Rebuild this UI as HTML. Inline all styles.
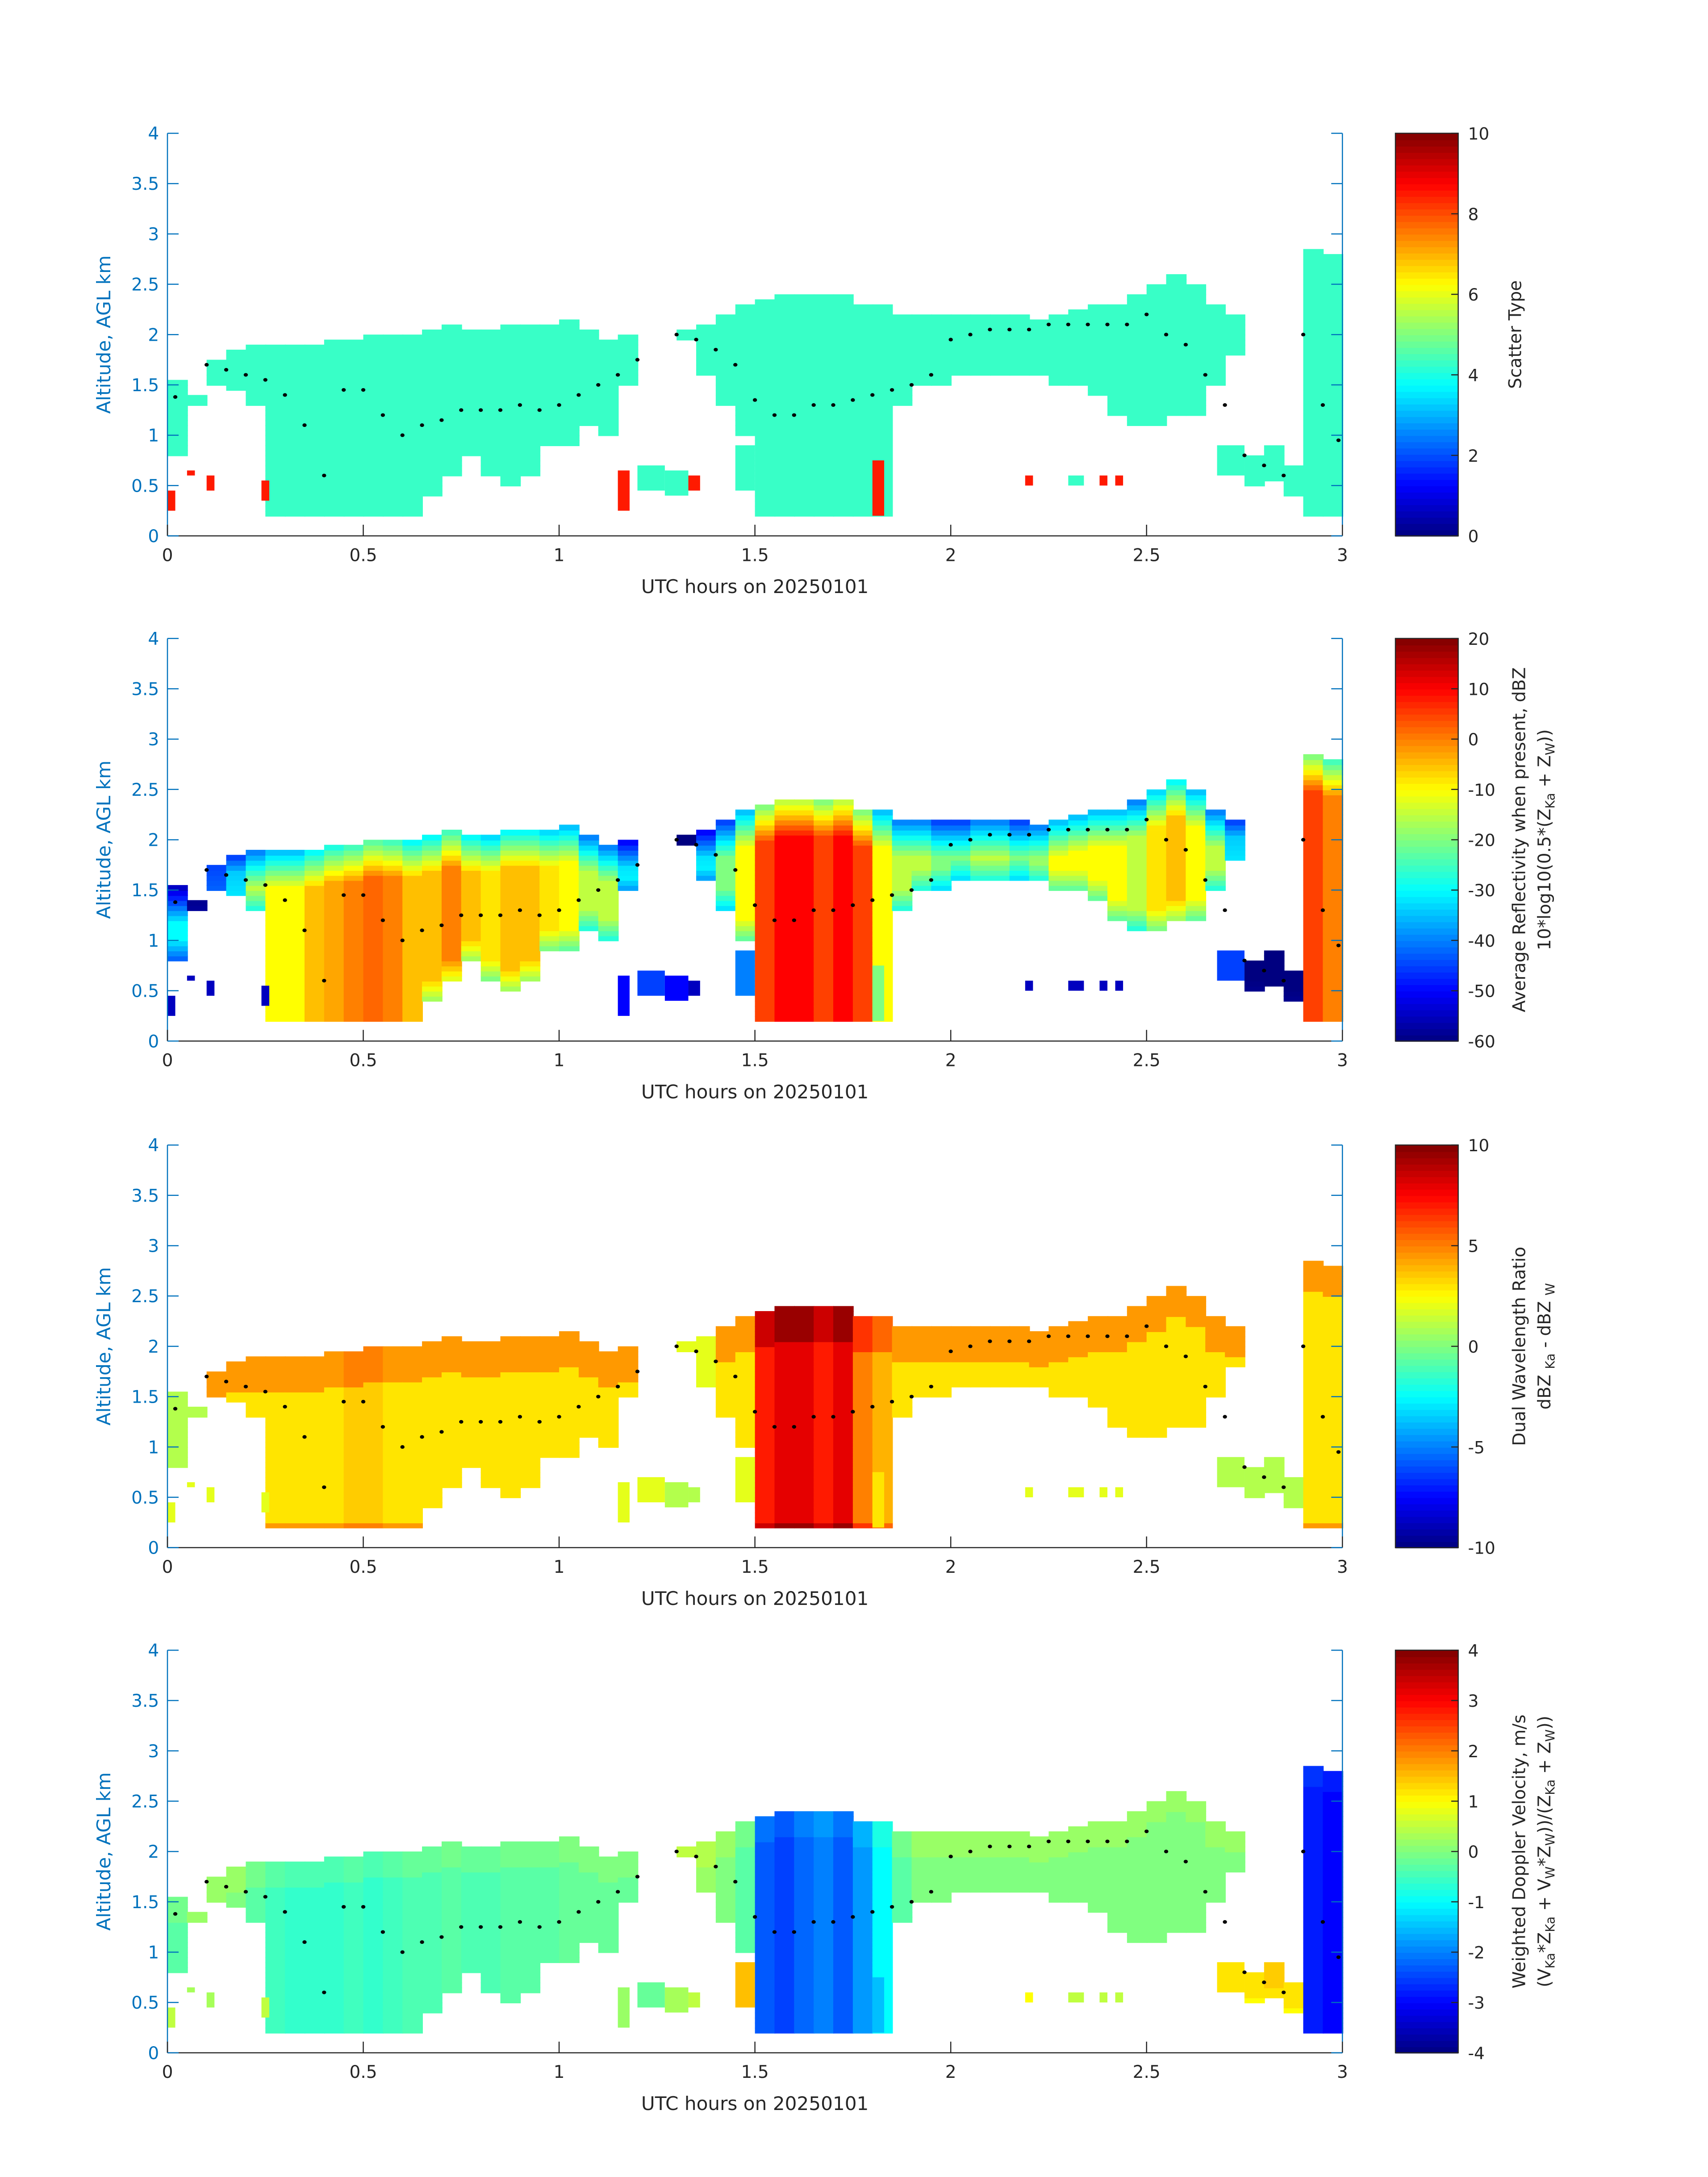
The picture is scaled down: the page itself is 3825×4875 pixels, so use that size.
<!DOCTYPE html>
<html><head><meta charset="utf-8"><style>
html,body{margin:0;padding:0;background:#fff}
svg{display:block}
text{font-family:"DejaVu Sans","Liberation Sans",sans-serif}
</style></head><body>
<svg id="fig" xmlns="http://www.w3.org/2000/svg" width="3825" height="4875" viewBox="0 0 1224 1560"></svg>
<script>
// ---- data (per 0.05 h column) ----
const colStart = [0,0.05,0.1,0.15,0.2,0.25,0.3,0.35,0.4,0.45,0.5,0.55,0.6,0.65,0.7,0.75,0.8,0.85,0.9,0.95,1.0,1.05,1.1,1.15,1.2,1.25,1.3,1.35,1.4,1.45,1.5,1.55,1.6,1.65,1.7,1.75,1.8,1.85,1.9,1.95,2.0,2.05,2.1,2.15,2.2,2.25,2.3,2.35,2.4,2.45,2.5,2.55,2.6,2.65,2.7,2.75,2.8,2.85,2.9,2.95];
const cloudTop = [1.55,1.4,1.75,1.85,1.9,1.9,1.9,1.9,1.95,1.95,2.0,2.0,2.0,2.05,2.1,2.05,2.05,2.1,2.1,2.1,2.15,2.05,1.95,2.0,0,0,2.05,2.1,2.2,2.3,2.35,2.4,2.4,2.4,2.4,2.3,2.3,2.2,2.2,2.2,2.2,2.2,2.2,2.2,2.15,2.2,2.25,2.3,2.3,2.4,2.5,2.6,2.5,2.3,2.2,0.8,0.9,0.7,2.85,2.8];
const cloudBase = [0.8,1.3,1.5,1.45,1.3,0.2,0.2,0.2,0.2,0.2,0.2,0.2,0.2,0.4,0.6,0.8,0.6,0.5,0.6,0.9,0.9,1.1,1.0,1.5,0,0,1.95,1.6,1.3,1.0,0.2,0.2,0.2,0.2,0.2,0.2,0.2,1.3,1.5,1.5,1.6,1.6,1.6,1.6,1.6,1.5,1.5,1.4,1.2,1.1,1.1,1.2,1.2,1.5,1.8,0.5,0.55,0.4,0.2,0.2];
const reflCore = [-30,-25,-20,-20,-15,-10,-10,-5,-3,0,2,0,-5,-5,0,-5,-8,-5,-5,-8,-10,-15,-15,-25,-30,-30,-30,-25,-20,-10,5,10,10,5,10,5,-10,-15,-15,-20,-20,-15,-15,-20,-15,-10,-10,-10,-10,-15,-8,-5,-10,-15,-20,-40,-45,-40,5,0];
const dwrCore = [1,1,3,3,3,3,3,3,3,3.5,3.5,3,3,3,3,3,3,3,3,3,3,3,3,3,0,0,2,2,3,3,7,8,8,7,8,5,4,3,3,3,3,3,3,3,3,3,3,3,3,3,3,3,3,3,3,1,1,1,3,3];
const velCore = [-0.3,0,0,0,-0.3,-0.5,-0.6,-0.6,-0.6,-0.5,-0.6,-0.5,-0.4,-0.4,-0.3,-0.4,-0.4,-0.3,-0.3,-0.3,-0.2,-0.2,-0.2,-0.2,0,0,0.3,0.2,0,-0.3,-2.3,-2.5,-2.2,-2.0,-2.3,-1.8,-1.0,-0.3,0,0,0,0,0,0,0,0,0,0,0,0,0,0,0,0,0,1.0,1.2,1.0,-2.8,-3.0];
// small isolated echo patches
const patchStart = [0,0.05,0.1,0.24,1.15,1.2,1.27,1.33,1.45,1.8,2.19,2.3,2.38,2.42,2.68];
const patchEnd   = [0.02,0.07,0.12,0.26,1.18,1.27,1.33,1.36,1.5,1.83,2.21,2.34,2.4,2.44,2.75];
const patchBot   = [0.25,0.6,0.45,0.35,0.25,0.45,0.4,0.45,0.45,0.2,0.5,0.5,0.5,0.5,0.6];
const patchTop   = [0.45,0.65,0.6,0.55,0.65,0.7,0.65,0.6,0.9,0.75,0.6,0.6,0.6,0.6,0.9];
const patchScat  = [8.5,8.5,8.5,8.5,8.5,4.3,4.3,8.5,4.3,8.5,8.5,4.3,8.5,8.5,4.3];
const patchRefl  = [-55,-55,-55,-55,-50,-45,-50,-55,-40,-20,-55,-55,-55,-55,-45];
const patchDwr   = [2,2,2,2,2,2,1,1,2,3,2,2,2,2,1];
const patchVel   = [0.5,0.3,0.3,0.5,0.2,-0.2,0.3,0.5,1.5,-1.5,1,0.5,0.5,0.5,1.2];
const dotTime = [0.02,0.1,0.15,0.2,0.25,0.3,0.35,0.4,0.45,0.5,0.55,0.6,0.65,0.7,0.75,0.8,0.85,0.9,0.95,1.0,1.05,1.1,1.15,1.2,1.3,1.35,1.4,1.45,1.5,1.55,1.6,1.65,1.7,1.75,1.8,1.85,1.9,1.95,2.0,2.05,2.1,2.15,2.2,2.25,2.3,2.35,2.4,2.45,2.5,2.55,2.6,2.65,2.7,2.75,2.8,2.85,2.9,2.95,2.99];
const dotAlt = [1.38,1.7,1.65,1.6,1.55,1.4,1.1,0.6,1.45,1.45,1.2,1.0,1.1,1.15,1.25,1.25,1.25,1.3,1.25,1.3,1.4,1.5,1.6,1.75,2.0,1.95,1.85,1.7,1.35,1.2,1.2,1.3,1.3,1.35,1.4,1.45,1.5,1.6,1.95,2.0,2.05,2.05,2.05,2.1,2.1,2.1,2.1,2.1,2.2,2.0,1.9,1.6,1.3,0.8,0.7,0.6,2.0,1.3,0.95];
const xTicks = [0,0.5,1,1.5,2,2.5,3];
const yTicks = [0,0.5,1,1.5,2,2.5,3,3.5,4];

// ---- helpers ----
const NS="http://www.w3.org/2000/svg";
const svg=document.getElementById('fig');
function el(tag,attrs,parent){const e=document.createElementNS(NS,tag);for(const k in attrs)e.setAttribute(k,attrs[k]);(parent||svg).appendChild(e);return e;}
function jet(t){t=Math.max(0,Math.min(1,t));
 const r=Math.max(0,Math.min(1,1.5-Math.abs(4*t-3)));
 const g=Math.max(0,Math.min(1,1.5-Math.abs(4*t-2)));
 const b=Math.max(0,Math.min(1,1.5-Math.abs(4*t-1)));
 return `rgb(${Math.round(r*255)},${Math.round(g*255)},${Math.round(b*255)})`;}
const X0=120,X1=962;
function xs(h){return X0+(X1-X0)*h/3;}
const CB0=1000,CB1=1045;

const sub="font-size='9' dy='3'", up="dy='-3'";
const panels=[
 {top:95.5,cmin:0,cmax:10,cticks:[0,2,4,6,8,10],labels:["Scatter Type"],key:'scatter'},
 {top:457.5,cmin:-60,cmax:20,cticks:[-60,-50,-40,-30,-20,-10,0,10,20],labels:["Average Reflectivity when present, dBZ",`10*log10(0.5*(Z<tspan ${sub}>Ka</tspan><tspan ${up}> + Z</tspan><tspan ${sub}>W</tspan><tspan ${up}>))</tspan>`],key:'refl'},
 {top:820.5,cmin:-10,cmax:10,cticks:[-10,-5,0,5,10],labels:["Dual Wavelength Ratio",`dBZ <tspan ${sub}>Ka</tspan><tspan ${up}> - dBZ </tspan><tspan ${sub}>W</tspan>`],key:'dwr'},
 {top:1182.5,cmin:-4,cmax:4,cticks:[-4,-3,-2,-1,0,1,2,3,4],labels:["Weighted Doppler Velocity, m/s",`(V<tspan ${sub}>Ka</tspan><tspan ${up}>*Z</tspan><tspan ${sub}>Ka</tspan><tspan ${up}> + V</tspan><tspan ${sub}>W</tspan><tspan ${up}>*Z</tspan><tspan ${sub}>W</tspan><tspan ${up}>))/(Z</tspan><tspan ${sub}>Ka</tspan><tspan ${up}> + Z</tspan><tspan ${sub}>W</tspan><tspan ${up}>))</tspan>`],key:'vel'}
];
const H=288.5;

panels.forEach((p)=>{
 const g=el('g',{});
 
 
 const ys=a=>p.top+H-H*a/4;
 const cmap=v=>jet((v-p.cmin)/(p.cmax-p.cmin));
 const cells=el('g',{},g);
 
 
 const dz=0.05;
 for(let i=0;i<colStart.length;i++){
  const t=cloudTop[i],b=cloudBase[i];
  if(t<=0)continue;
  for(let a=b;a<t-1e-6;a+=dz){
   let v;
   const dTop=t-(a+dz);
   if(p.key==='scatter')v=4.3;
   else if(p.key==='refl'){v=reflCore[i]-Math.max(0,0.35-dTop)*70-Math.max(0,0.2-(a-b))*(b>0.25?60:0);}
   else if(p.key==='dwr'){v=dwrCore[i]+(dTop<0.3&&dwrCore[i]>2?1.5:0)+(a<0.25&&b<0.25?1.5:0);}
   else v=velCore[i]+(dTop<0.2?0.2:0);
   const c=el('rect',{x:xs(colStart[i]).toFixed(2),y:ys(Math.min(a+dz,t)).toFixed(2),width:(xs(0.05)-X0+0.6).toFixed(2),height:(ys(a)-ys(Math.min(a+dz,t))+0.6).toFixed(2),fill:cmap(v)},cells);
   
   
  }
 }
 const pv={scatter:patchScat,refl:patchRefl,dwr:patchDwr,vel:patchVel}[p.key];
 for(let i=0;i<patchStart.length;i++){
  const c=el('rect',{x:xs(patchStart[i]),y:ys(patchTop[i]),width:xs(patchEnd[i])-xs(patchStart[i]),height:ys(patchBot[i])-ys(patchTop[i]),fill:cmap(pv[i])},cells);
  
  
 }
 // dots
 const dg=el('g',{},g);
 
 
 for(let i=0;i<dotTime.length;i++){
  const d=el('ellipse',{cx:xs(dotTime[i]),cy:ys(dotAlt[i]),rx:1.5,ry:1.3,fill:'#000'},dg);
  
  
 }
 // axes
 const ax=el('g',{},g);
 
 
 el('line',{x1:X0,y1:p.top+H,x2:X1,y2:p.top+H,stroke:'#262626','stroke-width':0.8},ax);
 el('line',{x1:X0,y1:p.top,x2:X0,y2:p.top+H,stroke:'#0072BD','stroke-width':0.8},ax);
 el('line',{x1:X1,y1:p.top,x2:X1,y2:p.top+H,stroke:'#0072BD','stroke-width':0.8},ax);
 xTicks.forEach(h=>{
  el('line',{x1:xs(h),y1:p.top+H,x2:xs(h),y2:p.top+H-8,stroke:'#262626','stroke-width':0.8},ax);
  const t=el('text',{x:xs(h),y:p.top+H+18,'font-size':12.5,'text-anchor':'middle',fill:'#262626'},ax);t.textContent=String(h);
  
  
 });
 yTicks.forEach(a=>{
  el('line',{x1:X0,y1:ys(a),x2:X0+8,y2:ys(a),stroke:'#0072BD','stroke-width':0.8},ax);
  el('line',{x1:X1,y1:ys(a),x2:X1-8,y2:ys(a),stroke:'#0072BD','stroke-width':0.8},ax);
  const t=el('text',{x:X0-6,y:ys(a)+4.5,'font-size':12.5,'text-anchor':'end',fill:'#0072BD'},ax);t.textContent=String(a);
  
  
 });
 const xl=el('text',{x:(X0+X1)/2,y:p.top+H+41,'font-size':13.5,'text-anchor':'middle',fill:'#262626'},ax);xl.textContent='UTC hours on 20250101';
 
 
 const yl=el('text',{x:0,y:0,'font-size':13.5,'text-anchor':'middle',fill:'#0072BD',transform:`translate(79,${p.top+H/2}) rotate(-90)`},ax);yl.textContent='Altitude, AGL km';
 
 
 // colorbar
 const cb=el('g',{},g);
 
 
 const N=64;
 for(let k=0;k<N;k++){
  el('rect',{x:CB0,y:p.top+H-(k+1)*H/N,width:CB1-CB0,height:H/N+0.5,fill:jet((k+0.5)/N)},cb);
 }
 el('rect',{x:CB0,y:p.top,width:CB1-CB0,height:H,fill:'none',stroke:'#262626','stroke-width':0.8},cb);
 p.cticks.forEach(v=>{
  const y=p.top+H-H*(v-p.cmin)/(p.cmax-p.cmin);
  el('line',{x1:CB1,y1:y,x2:CB1-5,y2:y,stroke:'#262626','stroke-width':0.8},cb);
  const t=el('text',{x:CB1+7,y:y+4.5,'font-size':12,fill:'#262626'},cb);t.textContent=String(v);
  
  
 });
 const lx=p.labels.length===1?[1090]:[1093,1111];
 p.labels.forEach((s,j)=>{
  const t=el('text',{x:0,y:0,'font-size':12.5,'text-anchor':'middle',fill:'#262626',transform:`translate(${lx[j]},${p.top+H/2}) rotate(-90)`},cb);
  t.innerHTML=s;
  
  
 });
});
</script>
</body></html>
